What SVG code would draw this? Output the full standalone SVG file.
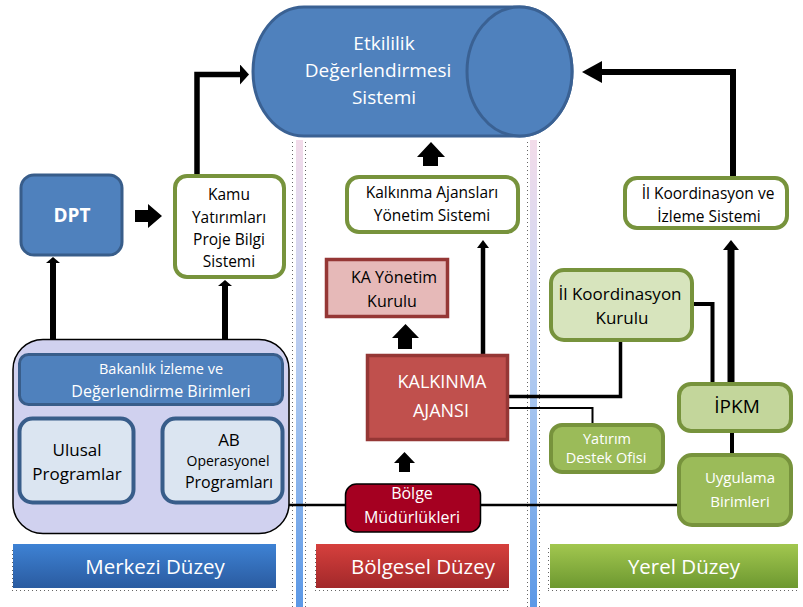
<svg xmlns="http://www.w3.org/2000/svg" width="803" height="607" viewBox="0 0 803 607">
<style>
  .t { font-family: "Open Sans", "Liberation Sans", sans-serif; text-anchor: middle; }
  .w { fill: #ffffff; }
  .k { fill: #000000; }
  .blue { fill: #4f81bd; stroke: #385d8a; stroke-width: 3; }
  .sys { fill: #ffffff; stroke: #77933c; stroke-width: 4; }
  .lgreen { fill: #d7e4bd; stroke: #77933c; stroke-width: 4; }
  .mgreen { fill: #c3d69b; stroke: #77933c; stroke-width: 4; }
  .green { fill: #9bbb59; stroke: #77933c; stroke-width: 4; }
  .conn { fill: none; stroke: #000; stroke-linejoin: miter; }
  .dots { fill: none; stroke: #666; stroke-width: 1; stroke-dasharray: 1 3; }
</style>
<defs>
  <linearGradient id="gDiv" x1="0" y1="0" x2="0" y2="1">
    <stop offset="0" stop-color="#f3dcea"/>
    <stop offset="0.25" stop-color="#d6d7f0"/>
    <stop offset="0.55" stop-color="#a8c6f0"/>
    <stop offset="1" stop-color="#5b98e6"/>
  </linearGradient>
  <linearGradient id="gBlue" x1="0" y1="0" x2="0" y2="1">
    <stop offset="0" stop-color="#3e82d4"/>
    <stop offset="1" stop-color="#2a5ba0"/>
  </linearGradient>
  <linearGradient id="gRed" x1="0" y1="0" x2="0" y2="1">
    <stop offset="0" stop-color="#d6403d"/>
    <stop offset="1" stop-color="#a2282a"/>
  </linearGradient>
  <linearGradient id="gGreen" x1="0" y1="0" x2="0" y2="1">
    <stop offset="0" stop-color="#a2c74f"/>
    <stop offset="1" stop-color="#6d9830"/>
  </linearGradient>
  <marker id="ahBig" markerUnits="userSpaceOnUse" markerWidth="20" markerHeight="22" refX="0" refY="11" orient="auto">
    <path d="M0,0 L20,11 L0,22 Z" fill="#000"/>
  </marker>
  <marker id="ahFlat" markerUnits="userSpaceOnUse" markerWidth="9" markerHeight="20" refX="0" refY="10" orient="auto">
    <path d="M0,0 L9,10 L0,20 Z" fill="#000"/>
  </marker>
  <marker id="ahSmall" markerUnits="userSpaceOnUse" markerWidth="6" markerHeight="14" refX="0" refY="7" orient="auto">
    <path d="M0,0 L6,7 L0,14 Z" fill="#000"/>
  </marker>
  <marker id="ahThin" markerUnits="userSpaceOnUse" markerWidth="8" markerHeight="12" refX="0" refY="6" orient="auto">
    <path d="M0,0 L8,6 L0,12 Z" fill="#000"/>
  </marker>
  <marker id="ahMid" markerUnits="userSpaceOnUse" markerWidth="10" markerHeight="16" refX="0" refY="8" orient="auto">
    <path d="M0,0 L10,8 L0,16 Z" fill="#000"/>
  </marker>
</defs>

<rect x="0" y="0" width="803" height="607" fill="#ffffff"/>

<!-- dividers -->
<g id="dividers">
  <rect x="296" y="140" width="7" height="467" fill="url(#gDiv)"/>
  <rect x="530" y="140" width="7" height="467" fill="url(#gDiv)"/>
  <line class="dots" x1="292.5" y1="142" x2="292.5" y2="607"/>
  <line class="dots" x1="305.5" y1="142" x2="305.5" y2="607"/>
  <line class="dots" x1="527.5" y1="142" x2="527.5" y2="607"/>
  <line class="dots" x1="539.5" y1="142" x2="539.5" y2="607"/>
  <line class="dots" x1="12.5" y1="550" x2="12.5" y2="590"/>
  <line class="dots" x1="12" y1="590.5" x2="277" y2="590.5"/>
  <line class="dots" x1="315.5" y1="550" x2="315.5" y2="590"/>
  <line class="dots" x1="315" y1="590.5" x2="509" y2="590.5"/>
  <line class="dots" x1="548.5" y1="548" x2="548.5" y2="590"/>
  <line class="dots" x1="548" y1="590.5" x2="798" y2="590.5"/>
</g>

<!-- level headers -->
<g id="merkezi">
  <rect x="13" y="544" width="263" height="44" fill="url(#gBlue)"/>
  <text class="t w" x="155" y="574" font-size="20.5">Merkezi  Düzey</text>
</g>
<g id="bolgesel">
  <rect x="316" y="544" width="193" height="44" fill="url(#gRed)"/>
  <text class="t w" x="423" y="574" font-size="20.5">Bölgesel Düzey</text>
</g>
<g id="yerel">
  <rect x="550" y="544" width="248" height="44" fill="url(#gGreen)"/>
  <text class="t w" x="684" y="574" font-size="20.5">Yerel Düzey</text>
</g>

<!-- connectors -->
<g id="connectors">
  <path class="conn" d="M197,174 V74.5 H240" stroke-width="5.5" marker-end="url(#ahFlat)"/>
  <path class="conn" d="M733,177 V72 H602" stroke-width="6" marker-end="url(#ahBig)"/>
  <path class="conn" d="M53,339 V263" stroke-width="6" marker-end="url(#ahSmall)"/>
  <path class="conn" d="M225,339 V286" stroke-width="6" marker-end="url(#ahSmall)"/>
  <path class="conn" d="M483,354 V248" stroke-width="4.5" marker-end="url(#ahThin)"/>
  <path class="conn" d="M731,382 V250" stroke-width="7" marker-end="url(#ahMid)"/>
  <path class="conn" d="M509,396.5 H620.5 V341" stroke-width="3.5"/>
  <path class="conn" d="M509,408 H592.5 V423" stroke-width="2"/>
  <path class="conn" d="M692,304 H712.5 V382" stroke-width="4"/>
  <path class="conn" d="M732,433 V453" stroke-width="4"/>
  <path class="conn" d="M285,505 H677" stroke-width="2.5"/>
  <polygon points="135,210 148,210 148,204 162,216 148,228 148,222 135,222" fill="#000"/>
  <polygon points="423,166 423,157 417,157 431,142 445,157 438,157 438,166" fill="#000"/>
  <polygon points="398,349 398,338 392,338 405.5,324 419,338 412,338 412,349" fill="#000"/>
  <polygon points="399,472 399,463 394,463 404.5,452 415,463 410,463 410,472" fill="#000"/>
</g>

<!-- cylinder -->
<g id="etkililik">
  <path d="M304,7 H519.5 A52.5,64.5 0 0 1 519.5,136 H304 A51,64.5 0 0 1 304,7 Z" fill="#4f81bd" stroke="#3a6193" stroke-width="3"/>
  <ellipse cx="519.5" cy="71.5" rx="52.5" ry="64.5" fill="#4f81bd" stroke="#3a6193" stroke-width="3"/>
  <text class="t w" x="384" y="50" font-size="19">Etkililik</text>
  <text class="t w" x="378" y="77" font-size="19">Değerlendirmesi</text>
  <text class="t w" x="384" y="104" font-size="19">Sistemi</text>
</g>

<g id="dpt">
  <rect class="blue" x="21" y="175" width="101" height="80" rx="13"/>
  <text class="t w" x="72" y="222" font-size="19" font-weight="bold">DPT</text>
</g>

<g id="kamu">
  <rect class="sys" x="175" y="176" width="109" height="101" rx="12"/>
  <text class="t k" x="229" y="200" font-size="15.5">Kamu</text>
  <text class="t k" x="229" y="223" font-size="15.5">Yatırımları</text>
  <text class="t k" x="229" y="245" font-size="15.5">Proje Bilgi</text>
  <text class="t k" x="229" y="267" font-size="15.5">Sistemi</text>
</g>

<g id="bakanlik-grup">
  <rect x="13" y="339.5" width="276" height="194" rx="30" fill="#d0d1ef" stroke="#000" stroke-width="1.5"/>
</g>
<g id="bakanlik">
  <rect class="blue" x="19.5" y="354.5" width="263" height="50" rx="9"/>
  <text class="t w" x="161" y="374" font-size="14.5">Bakanlık İzleme ve</text>
  <text class="t w" x="161" y="397" font-size="16">Değerlendirme Birimleri</text>
</g>
<g id="ulusal">
  <rect x="19.5" y="418.5" width="114" height="84" rx="13" fill="#dbe5f1" stroke="#385d8a" stroke-width="4"/>
  <text class="t k" x="77" y="456" font-size="17">Ulusal</text>
  <text class="t k" x="77" y="480" font-size="17">Programlar</text>
</g>
<g id="ab">
  <rect x="162.5" y="418.5" width="120" height="84" rx="13" fill="#dbe5f1" stroke="#385d8a" stroke-width="4"/>
  <text class="t k" x="229" y="446" font-size="17">AB</text>
  <text class="t k" x="228" y="466" font-size="14">Operasyonel</text>
  <text class="t k" x="229" y="488" font-size="16">Programları</text>
</g>

<g id="kays">
  <rect class="sys" x="347" y="177" width="171" height="55" rx="12"/>
  <text class="t k" x="432" y="198" font-size="15.5">Kalkınma Ajansları</text>
  <text class="t k" x="432" y="221" font-size="15.5">Yönetim Sistemi</text>
</g>

<g id="ka-yonetim">
  <rect x="326.5" y="259.5" width="121" height="57" fill="#e6b9b8" stroke="#953735" stroke-width="3.5"/>
  <text class="t k" x="394" y="283" font-size="16">KA Yönetim</text>
  <text class="t k" x="392" y="307" font-size="16">Kurulu</text>
</g>

<g id="ka">
  <rect x="367.5" y="355.5" width="140" height="84" fill="#c0504d" stroke="#953735" stroke-width="3.5"/>
  <text class="t w" x="442" y="388" font-size="18">KALKINMA</text>
  <text class="t w" x="441" y="417" font-size="18">AJANSI</text>
</g>

<g id="bolge">
  <rect x="345.5" y="484" width="135" height="48" rx="11" fill="#a50021" stroke="#000" stroke-width="1.5"/>
  <text class="t w" x="412" y="499" font-size="16">Bölge</text>
  <text class="t w" x="412" y="523" font-size="16">Müdürlükleri</text>
</g>

<g id="ikis">
  <rect class="sys" x="625" y="178" width="162" height="50" rx="12"/>
  <text class="t k" x="708" y="199" font-size="15.5">İl Koordinasyon ve</text>
  <text class="t k" x="709" y="222" font-size="15.5">İzleme Sistemi</text>
</g>

<g id="il-kurulu">
  <rect class="lgreen" x="551" y="270" width="141" height="70" rx="13"/>
  <text class="t k" x="620" y="300" font-size="17">İl Koordinasyon</text>
  <text class="t k" x="622" y="324" font-size="17">Kurulu</text>
</g>

<g id="ipkm">
  <rect class="mgreen" x="679" y="384" width="112" height="47" rx="12"/>
  <text class="t k" x="737" y="413" font-size="19">İPKM</text>
</g>

<g id="yatirim">
  <rect class="green" x="551" y="425" width="112" height="47" rx="11"/>
  <text class="t w" x="607" y="444" font-size="14.5">Yatırım</text>
  <text class="t w" x="606" y="463" font-size="14.5">Destek Ofisi</text>
</g>

<g id="uygulama">
  <rect class="green" x="679" y="455" width="112" height="70" rx="13"/>
  <text class="t w" x="740" y="483" font-size="15">Uygulama</text>
  <text class="t w" x="740" y="507" font-size="15">Birimleri</text>
</g>
</svg>
